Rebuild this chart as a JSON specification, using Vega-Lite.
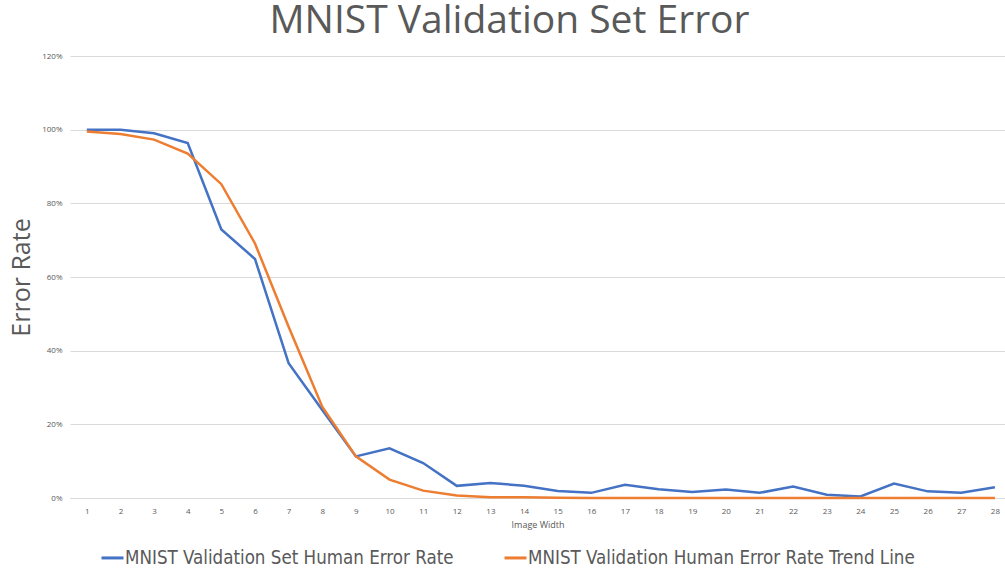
{
  "$schema": "https://vega.github.io/schema/vega-lite/v6.json",
  "autosize": "none",
  "width": 935,
  "height": 442,
  "padding": {"left": 70, "top": 56, "right": 0, "bottom": 77},
  "background": "white",
  "title": {
    "text": "MNIST Validation Set Error",
    "font": "Open Sans",
    "fontSize": 39,
    "fontWeight": "normal",
    "color": "#595959",
    "anchor": "middle",
    "dx": -28,
    "offset": 11
  },
  "config": {
    "view": {"stroke": null},
    "font": "Open Sans"
  },
  "data": {
    "values": [
      {"w": 1, "s": "MNIST Validation Set Human Error Rate", "v": 1.0},
      {"w": 2, "s": "MNIST Validation Set Human Error Rate", "v": 1.0},
      {"w": 3, "s": "MNIST Validation Set Human Error Rate", "v": 0.99},
      {"w": 4, "s": "MNIST Validation Set Human Error Rate", "v": 0.964},
      {"w": 5, "s": "MNIST Validation Set Human Error Rate", "v": 0.729},
      {"w": 6, "s": "MNIST Validation Set Human Error Rate", "v": 0.649},
      {"w": 7, "s": "MNIST Validation Set Human Error Rate", "v": 0.366},
      {"w": 8, "s": "MNIST Validation Set Human Error Rate", "v": 0.239},
      {"w": 9, "s": "MNIST Validation Set Human Error Rate", "v": 0.113},
      {"w": 10, "s": "MNIST Validation Set Human Error Rate", "v": 0.135},
      {"w": 11, "s": "MNIST Validation Set Human Error Rate", "v": 0.095},
      {"w": 12, "s": "MNIST Validation Set Human Error Rate", "v": 0.033},
      {"w": 13, "s": "MNIST Validation Set Human Error Rate", "v": 0.041},
      {"w": 14, "s": "MNIST Validation Set Human Error Rate", "v": 0.033},
      {"w": 15, "s": "MNIST Validation Set Human Error Rate", "v": 0.019},
      {"w": 16, "s": "MNIST Validation Set Human Error Rate", "v": 0.014},
      {"w": 17, "s": "MNIST Validation Set Human Error Rate", "v": 0.036},
      {"w": 18, "s": "MNIST Validation Set Human Error Rate", "v": 0.024},
      {"w": 19, "s": "MNIST Validation Set Human Error Rate", "v": 0.016},
      {"w": 20, "s": "MNIST Validation Set Human Error Rate", "v": 0.023},
      {"w": 21, "s": "MNIST Validation Set Human Error Rate", "v": 0.014},
      {"w": 22, "s": "MNIST Validation Set Human Error Rate", "v": 0.031},
      {"w": 23, "s": "MNIST Validation Set Human Error Rate", "v": 0.009},
      {"w": 24, "s": "MNIST Validation Set Human Error Rate", "v": 0.004},
      {"w": 25, "s": "MNIST Validation Set Human Error Rate", "v": 0.039},
      {"w": 26, "s": "MNIST Validation Set Human Error Rate", "v": 0.018},
      {"w": 27, "s": "MNIST Validation Set Human Error Rate", "v": 0.014},
      {"w": 28, "s": "MNIST Validation Set Human Error Rate", "v": 0.029},
      {"w": 1, "s": "MNIST Validation Human Error Rate Trend Line", "v": 0.995},
      {"w": 2, "s": "MNIST Validation Human Error Rate Trend Line", "v": 0.988},
      {"w": 3, "s": "MNIST Validation Human Error Rate Trend Line", "v": 0.973},
      {"w": 4, "s": "MNIST Validation Human Error Rate Trend Line", "v": 0.935},
      {"w": 5, "s": "MNIST Validation Human Error Rate Trend Line", "v": 0.852},
      {"w": 6, "s": "MNIST Validation Human Error Rate Trend Line", "v": 0.691},
      {"w": 7, "s": "MNIST Validation Human Error Rate Trend Line", "v": 0.465},
      {"w": 8, "s": "MNIST Validation Human Error Rate Trend Line", "v": 0.248},
      {"w": 9, "s": "MNIST Validation Human Error Rate Trend Line", "v": 0.113},
      {"w": 10, "s": "MNIST Validation Human Error Rate Trend Line", "v": 0.05},
      {"w": 11, "s": "MNIST Validation Human Error Rate Trend Line", "v": 0.02},
      {"w": 12, "s": "MNIST Validation Human Error Rate Trend Line", "v": 0.007},
      {"w": 13, "s": "MNIST Validation Human Error Rate Trend Line", "v": 0.002},
      {"w": 14, "s": "MNIST Validation Human Error Rate Trend Line", "v": 0.002},
      {"w": 15, "s": "MNIST Validation Human Error Rate Trend Line", "v": 0.001},
      {"w": 16, "s": "MNIST Validation Human Error Rate Trend Line", "v": 0.0},
      {"w": 17, "s": "MNIST Validation Human Error Rate Trend Line", "v": 0.0},
      {"w": 18, "s": "MNIST Validation Human Error Rate Trend Line", "v": 0.0},
      {"w": 19, "s": "MNIST Validation Human Error Rate Trend Line", "v": 0.0},
      {"w": 20, "s": "MNIST Validation Human Error Rate Trend Line", "v": 0.0},
      {"w": 21, "s": "MNIST Validation Human Error Rate Trend Line", "v": 0.0},
      {"w": 22, "s": "MNIST Validation Human Error Rate Trend Line", "v": 0.0},
      {"w": 23, "s": "MNIST Validation Human Error Rate Trend Line", "v": 0.0},
      {"w": 24, "s": "MNIST Validation Human Error Rate Trend Line", "v": 0.0},
      {"w": 25, "s": "MNIST Validation Human Error Rate Trend Line", "v": 0.0},
      {"w": 26, "s": "MNIST Validation Human Error Rate Trend Line", "v": 0.0},
      {"w": 27, "s": "MNIST Validation Human Error Rate Trend Line", "v": 0.0},
      {"w": 28, "s": "MNIST Validation Human Error Rate Trend Line", "v": 0.0}
    ]
  },
  "mark": {"type": "line", "strokeWidth": 2.5, "clip": false},
  "encoding": {
    "x": {
      "field": "w",
      "type": "quantitative",
      "scale": {"domain": [0.5, 28.3], "nice": false, "zero": false},
      "axis": {
        "values": [1,2,3,4,5,6,7,8,9,10,11,12,13,14,15,16,17,18,19,20,21,22,23,24,25,26,27,28],
        "grid": false,
        "domain": true,
        "domainColor": "#D9D9D9",
        "domainWidth": 1,
        "ticks": false,
        "labelFontSize": 8,
        "labelColor": "#595959",
        "labelPadding": 9,
        "title": "Image Width",
        "titleFontSize": 9,
        "titleFontWeight": "normal",
        "titleColor": "#595959",
        "titlePadding": 5
      }
    },
    "y": {
      "field": "v",
      "type": "quantitative",
      "scale": {"domain": [0, 1.2], "nice": false},
      "axis": {
        "values": [0, 0.2, 0.4, 0.6, 0.8, 1.0, 1.2],
        "format": ".0%",
        "grid": true,
        "gridColor": "#D9D9D9",
        "gridWidth": 1,
        "domain": false,
        "ticks": false,
        "labelFontSize": 8,
        "labelColor": "#595959",
        "labelPadding": 8,
        "title": "Error Rate",
        "titleFontSize": 25,
        "titleFontWeight": "normal",
        "titleColor": "#595959",
        "titlePadding": 7
      }
    },
    "color": {
      "field": "s",
      "type": "nominal",
      "sort": ["MNIST Validation Set Human Error Rate", "MNIST Validation Human Error Rate Trend Line"],
      "scale": {
        "domain": ["MNIST Validation Set Human Error Rate", "MNIST Validation Human Error Rate Trend Line"],
        "range": ["#4472C4", "#ED7D31"]
      },
      "legend": {
        "title": null,
        "orient": "none",
        "legendX": 30,
        "legendY": 489,
        "direction": "horizontal",
        "symbolType": "stroke",
        "symbolStrokeWidth": 3,
        "symbolSize": 484,
        "labelFont": "DejaVu Sans Condensed",
        "labelFontSize": 18.6,
        "labelColor": "#595959",
        "labelLimit": 500,
        "labelOffset": 0,
        "columnPadding": 44
      }
    }
  }
}
